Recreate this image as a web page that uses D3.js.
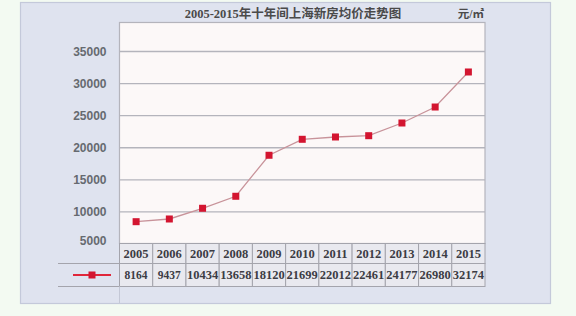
<!DOCTYPE html>
<html><head><meta charset="utf-8">
<script src="https://cdn.jsdelivr.net/npm/d3@7"></script>
<style>
html,body{margin:0;padding:0;background:#f3faf2;}
svg{display:block;}
</style></head>
<body>
<svg id="chart" width="576" height="316"></svg>
<script>
// ---- data ----
const years = ["2005","2006","2007","2008","2009","2010","2011","2012","2013","2014","2015"];
// values printed in the table
const tableValues = [8164, 9437, 10434, 13658, 18120, 21699, 22012, 22461, 24177, 26980, 32174];
// values as plotted by the line
const plotValues = [8400, 8820, 10490, 12360, 18750, 21240, 21600, 21800, 23780, 26270, 31730];
const yTicks = [5000, 10000, 15000, 20000, 25000, 30000, 35000];
const title = "2005-2015年十年间上海新房均价走势图";
const unit = "元/㎡";

// ---- layout ----
const svg = d3.select("#chart");
const panel = {x0: 20, y0: 2, x1: 550, y1: 303};
const plot = {x0: 119.5, x1: 485, top: 22.5, bottom: 243.5};
const row1 = {y0: 243.5, y1: 263.5};
const row2 = {y0: 263.5, y1: 286.5};
const serif = "'Liberation Serif','DejaVu Serif','Noto Sans CJK SC',serif";

const x = d3.scaleBand().domain(years).range([plot.x0, plot.x1]).paddingInner(0).paddingOuter(0);
const y = d3.scaleLinear().domain([5000, 35000]).range([243.5, 51]);

// panel
svg.append("rect").attr("x", panel.x0 + 0.5).attr("y", panel.y0 + 0.5)
  .attr("width", panel.x1 - panel.x0).attr("height", panel.y1 - panel.y0)
  .attr("fill", "#dfe3ef").attr("stroke", "#c4c9da").attr("stroke-width", 1.2);

// title
svg.append("text").attr("x", 293).attr("y", 18).attr("text-anchor", "middle")
  .attr("font-family", serif).attr("font-weight", "bold").attr("font-size", 12.5)
  .attr("fill", "#4a4a4a").text(title);
svg.append("text").attr("x", 484).attr("y", 18).attr("text-anchor", "end")
  .attr("font-family", serif).attr("font-weight", "bold").attr("font-size", 11.5)
  .attr("fill", "#4a4a4a").text(unit);

// plot background
svg.append("rect").attr("x", plot.x0).attr("y", plot.top)
  .attr("width", plot.x1 - plot.x0).attr("height", plot.bottom - plot.top)
  .attr("fill", "#fcf8f8").attr("stroke", "#b4b4bc").attr("stroke-width", 1.2);

// gridlines + y labels
const yAxis = d3.axisLeft(y).tickValues(yTicks).tickSize(0).tickPadding(0).tickFormat(d3.format("d"));
const gy = svg.append("g").attr("transform", `translate(${plot.x0},0)`).call(yAxis);
gy.select(".domain").remove();
gy.selectAll(".tick text").attr("x", -13).attr("dy", "0.35em")
  .attr("font-family", "'Liberation Sans','DejaVu Sans',sans-serif").attr("font-weight", "bold")
  .attr("font-size", 12).attr("fill", "#666a70");
gy.selectAll(".tick").filter(d => d !== 5000).append("line")
  .attr("x1", 0).attr("x2", plot.x1 - plot.x0).attr("stroke", "#b4b4bc").attr("stroke-width", 1.3);
gy.selectAll(".tick").filter(d => d === 5000).select("text").attr("dy", "0.12em");

// line + markers
const line = d3.line().x((d, i) => x(years[i]) + x.bandwidth() / 2).y(d => y(d));
svg.append("path").datum(plotValues).attr("d", line)
  .attr("fill", "none").attr("stroke", "#c8939a").attr("stroke-width", 1.3);
svg.selectAll("rect.mk").data(plotValues).join("rect").attr("class", "mk")
  .attr("x", (d, i) => x(years[i]) + x.bandwidth() / 2 - 3.5)
  .attr("y", d => y(d) - 3.5).attr("width", 7).attr("height", 7)
  .attr("fill", "#d31530");

// table
const tbl = svg.append("g");
years.forEach((yr, i) => {
  tbl.append("rect").attr("x", x(yr)).attr("y", row1.y0).attr("width", x.bandwidth()).attr("height", row1.y1 - row1.y0)
    .attr("fill", "#e9e9ef").attr("stroke", "#a4a4ac").attr("stroke-width", 1);
  tbl.append("rect").attr("x", x(yr)).attr("y", row2.y0).attr("width", x.bandwidth()).attr("height", row2.y1 - row2.y0)
    .attr("fill", "#e9e9ef").attr("stroke", "#a4a4ac").attr("stroke-width", 1);
});
tbl.selectAll("text.yr").data(years).join("text").attr("class", "yr")
  .attr("x", d => x(d) + x.bandwidth() / 2).attr("y", (row1.y0 + row1.y1) / 2 + 4.5)
  .attr("text-anchor", "middle").attr("font-family", serif).attr("font-weight", "bold")
  .attr("font-size", 12.5).attr("fill", "#3c3c44").text(d => d);
tbl.selectAll("text.val").data(tableValues).join("text").attr("class", "val")
  .attr("x", (d, i) => x(years[i]) + x.bandwidth() / 2).attr("y", (row2.y0 + row2.y1) / 2 + 4)
  .attr("text-anchor", "middle").attr("font-family", serif).attr("font-weight", "bold")
  .attr("font-size", 11.5).attr("textLength", (d) => String(d).length > 4 ? x.bandwidth() - 2 : null)
  .attr("lengthAdjust", "spacingAndGlyphs")
  .attr("fill", "#3c3c44").text(d => d);

// legend cell lines
tbl.append("line").attr("x1", 58).attr("x2", plot.x0).attr("y1", row2.y0).attr("y2", row2.y0)
  .attr("stroke", "#a4a4ac").attr("stroke-width", 1);
tbl.append("line").attr("x1", 58).attr("x2", plot.x0).attr("y1", row2.y1).attr("y2", row2.y1)
  .attr("stroke", "#a4a4ac").attr("stroke-width", 1);
tbl.append("line").attr("x1", plot.x0).attr("x2", plot.x0).attr("y1", row2.y1).attr("y2", panel.y1)
  .attr("stroke", "#c4c8d6").attr("stroke-width", 1);
// legend symbol
const ly = (row2.y0 + row2.y1) / 2;
tbl.append("line").attr("x1", 73).attr("x2", 111).attr("y1", ly).attr("y2", ly)
  .attr("stroke", "#e0263a").attr("stroke-width", 2);
tbl.append("rect").attr("x", 92 - 3.5).attr("y", ly - 3.5).attr("width", 7).attr("height", 7)
  .attr("fill", "#d31530");
</script>
</body></html>
